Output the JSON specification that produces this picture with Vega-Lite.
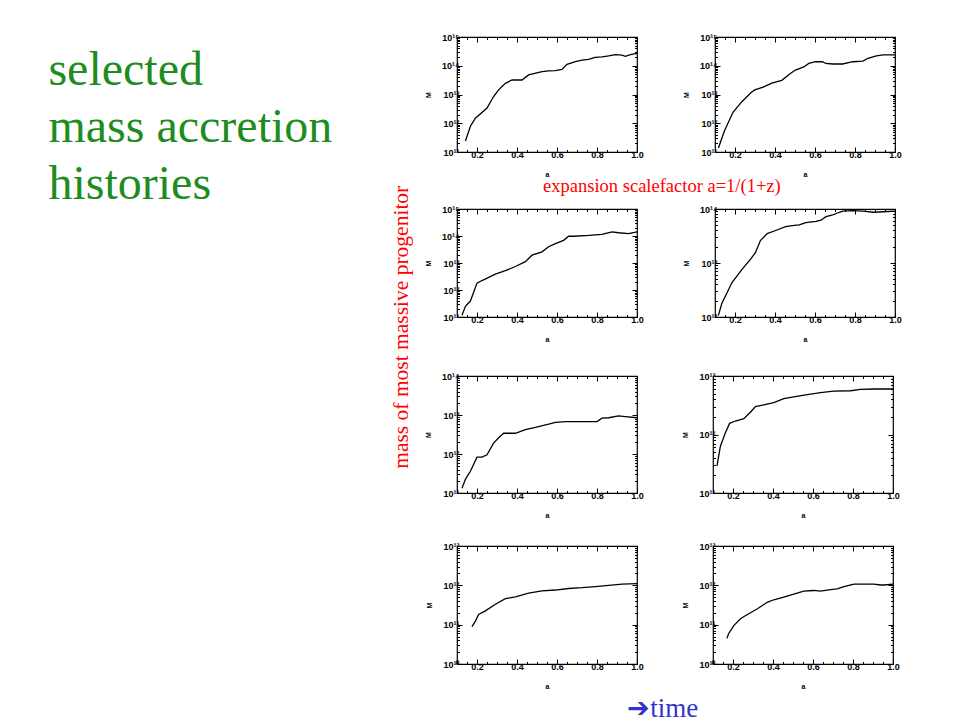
{
  "$schema": "https://vega.github.io/schema/vega-lite/v6.json",
  "autosize": {"type": "none"},
  "padding": {"left": 457, "top": 37, "right": 497, "bottom": 684},
  "background": "white",
  "title": {
    "text": ["selected", "mass accretion", "histories"],
    "orient": "top", "anchor": "start", "frame": "bounds",
    "font": "Liberation Serif", "fontSize": 48, "fontWeight": "normal",
    "color": "#1e8c1e", "lineHeight": 57, "baseline": "alphabetic",
    "offset": 0, "dx": -343, "dy": 215
  },
  "datasets": {
    "halo1": [
      {"a": 0.142, "M": 2.4e11}, {"a": 0.167, "M": 7.9e11}, {"a": 0.192, "M": 1.5e12}, {"a": 0.25, "M": 3.4e12},
      {"a": 0.283, "M": 8.5e12}, {"a": 0.308, "M": 1.45e13}, {"a": 0.342, "M": 2.45e13}, {"a": 0.375, "M": 3.2e13},
      {"a": 0.425, "M": 3.2e13}, {"a": 0.458, "M": 4.8e13}, {"a": 0.525, "M": 6.2e13}, {"a": 0.558, "M": 6.6e13},
      {"a": 0.592, "M": 6.8e13}, {"a": 0.625, "M": 7.4e13}, {"a": 0.65, "M": 1.12e14}, {"a": 0.692, "M": 1.38e14},
      {"a": 0.725, "M": 1.58e14}, {"a": 0.758, "M": 1.66e14}, {"a": 0.79, "M": 1.95e14}, {"a": 0.825, "M": 2.04e14},
      {"a": 0.858, "M": 2.19e14}, {"a": 0.892, "M": 2.45e14}, {"a": 0.925, "M": 2.34e14}, {"a": 0.942, "M": 2.14e14},
      {"a": 0.967, "M": 2.45e14}, {"a": 1.0, "M": 2.7e14}
    ],
    "halo2": [
      {"a": 0.117, "M": 1.38e11}, {"a": 0.147, "M": 5.4e11}, {"a": 0.19, "M": 2.4e12}, {"a": 0.232, "M": 5.4e12},
      {"a": 0.282, "M": 1.2e13}, {"a": 0.299, "M": 1.45e13}, {"a": 0.341, "M": 1.8e13}, {"a": 0.384, "M": 2.5e13},
      {"a": 0.434, "M": 3.1e13}, {"a": 0.477, "M": 5.4e13}, {"a": 0.502, "M": 7.1e13}, {"a": 0.544, "M": 9.1e13},
      {"a": 0.569, "M": 1.2e14}, {"a": 0.603, "M": 1.38e14}, {"a": 0.637, "M": 1.38e14}, {"a": 0.654, "M": 1.2e14},
      {"a": 0.688, "M": 1.15e14}, {"a": 0.738, "M": 1.15e14}, {"a": 0.789, "M": 1.38e14}, {"a": 0.84, "M": 1.45e14},
      {"a": 0.865, "M": 1.82e14}, {"a": 0.907, "M": 2.19e14}, {"a": 0.94, "M": 2.4e14}, {"a": 1.0, "M": 2.4e14}
    ],
    "halo3": [
      {"a": 0.125, "M": 1.15e11}, {"a": 0.142, "M": 2.5e11}, {"a": 0.167, "M": 3.9e11}, {"a": 0.2, "M": 1.8e12},
      {"a": 0.225, "M": 2.24e12}, {"a": 0.292, "M": 3.9e12}, {"a": 0.342, "M": 5.2e12}, {"a": 0.392, "M": 7.4e12},
      {"a": 0.442, "M": 1.12e13}, {"a": 0.475, "M": 1.95e13}, {"a": 0.525, "M": 2.6e13}, {"a": 0.558, "M": 4.0e13},
      {"a": 0.592, "M": 5.2e13}, {"a": 0.633, "M": 6.9e13}, {"a": 0.658, "M": 9.8e13}, {"a": 0.683, "M": 9.8e13},
      {"a": 0.758, "M": 1.05e14}, {"a": 0.825, "M": 1.15e14}, {"a": 0.875, "M": 1.41e14}, {"a": 0.908, "M": 1.32e14},
      {"a": 0.958, "M": 1.23e14}, {"a": 1.0, "M": 1.41e14}
    ],
    "halo4": [
      {"a": 0.117, "M": 1.07e12}, {"a": 0.134, "M": 1.78e12}, {"a": 0.159, "M": 2.75e12}, {"a": 0.184, "M": 4.3e12},
      {"a": 0.235, "M": 7.6e12}, {"a": 0.277, "M": 1.17e13}, {"a": 0.302, "M": 1.55e13}, {"a": 0.327, "M": 2.6e13},
      {"a": 0.361, "M": 3.5e13}, {"a": 0.403, "M": 4.0e13}, {"a": 0.453, "M": 4.7e13}, {"a": 0.487, "M": 4.9e13},
      {"a": 0.521, "M": 5.1e13}, {"a": 0.554, "M": 5.6e13}, {"a": 0.605, "M": 5.9e13}, {"a": 0.63, "M": 6.2e13},
      {"a": 0.655, "M": 7.2e13}, {"a": 0.689, "M": 7.8e13}, {"a": 0.722, "M": 8.7e13}, {"a": 0.739, "M": 9.1e13},
      {"a": 0.79, "M": 9.3e13}, {"a": 0.84, "M": 9.1e13}, {"a": 0.891, "M": 8.7e13}, {"a": 0.941, "M": 8.9e13},
      {"a": 1.0, "M": 9.1e13}
    ],
    "halo5": [
      {"a": 0.125, "M": 1.32e11}, {"a": 0.142, "M": 2.24e11}, {"a": 0.167, "M": 3.6e11}, {"a": 0.2, "M": 8.3e11},
      {"a": 0.225, "M": 8.3e11}, {"a": 0.25, "M": 9.5e11}, {"a": 0.283, "M": 1.9e12}, {"a": 0.308, "M": 2.6e12},
      {"a": 0.333, "M": 3.4e12}, {"a": 0.392, "M": 3.4e12}, {"a": 0.442, "M": 4.2e12}, {"a": 0.492, "M": 4.8e12},
      {"a": 0.558, "M": 5.8e12}, {"a": 0.592, "M": 6.5e12}, {"a": 0.642, "M": 6.8e12}, {"a": 0.725, "M": 6.8e12},
      {"a": 0.8, "M": 6.8e12}, {"a": 0.825, "M": 8.3e12}, {"a": 0.858, "M": 8.5e12}, {"a": 0.908, "M": 9.5e12},
      {"a": 0.942, "M": 9.1e12}, {"a": 1.0, "M": 8.5e12}
    ],
    "halo6": [
      {"a": 0.12, "M": 2.9e11}, {"a": 0.137, "M": 6.3e11}, {"a": 0.162, "M": 1.07e12}, {"a": 0.183, "M": 1.55e12},
      {"a": 0.212, "M": 1.7e12}, {"a": 0.254, "M": 1.86e12}, {"a": 0.287, "M": 2.4e12}, {"a": 0.312, "M": 3.0e12},
      {"a": 0.354, "M": 3.2e12}, {"a": 0.404, "M": 3.5e12}, {"a": 0.454, "M": 4.1e12}, {"a": 0.504, "M": 4.4e12},
      {"a": 0.571, "M": 4.8e12}, {"a": 0.638, "M": 5.2e12}, {"a": 0.704, "M": 5.5e12}, {"a": 0.788, "M": 5.6e12},
      {"a": 0.838, "M": 5.9e12}, {"a": 0.905, "M": 6.0e12}, {"a": 1.0, "M": 6.0e12}
    ],
    "halo7": [
      {"a": 0.175, "M": 8.9e10}, {"a": 0.192, "M": 1.23e11}, {"a": 0.208, "M": 1.82e11}, {"a": 0.242, "M": 2.24e11},
      {"a": 0.292, "M": 3.3e11}, {"a": 0.342, "M": 4.6e11}, {"a": 0.392, "M": 5.1e11}, {"a": 0.458, "M": 6.3e11},
      {"a": 0.525, "M": 7.2e11}, {"a": 0.592, "M": 7.6e11}, {"a": 0.658, "M": 8.3e11}, {"a": 0.725, "M": 8.7e11},
      {"a": 0.792, "M": 9.3e11}, {"a": 0.858, "M": 1.0e12}, {"a": 0.925, "M": 1.07e12}, {"a": 1.0, "M": 1.1e12}
    ],
    "halo8": [
      {"a": 0.17, "M": 4.5e10}, {"a": 0.178, "M": 5.9e10}, {"a": 0.204, "M": 9.5e10}, {"a": 0.237, "M": 1.41e11},
      {"a": 0.27, "M": 1.78e11}, {"a": 0.32, "M": 2.5e11}, {"a": 0.371, "M": 3.7e11}, {"a": 0.404, "M": 4.3e11},
      {"a": 0.454, "M": 5.0e11}, {"a": 0.504, "M": 6.0e11}, {"a": 0.554, "M": 7.1e11}, {"a": 0.604, "M": 7.4e11},
      {"a": 0.638, "M": 7.1e11}, {"a": 0.688, "M": 7.8e11}, {"a": 0.721, "M": 8.1e11}, {"a": 0.755, "M": 9.3e11},
      {"a": 0.805, "M": 1.07e12}, {"a": 0.855, "M": 1.07e12}, {"a": 0.905, "M": 1.07e12}, {"a": 0.938, "M": 1.02e12},
      {"a": 0.955, "M": 1.02e12}, {"a": 1.0, "M": 1.07e12}
    ]
  },
  "vconcat": [
    {
      "title": {
        "text": "➔time", "orient": "bottom", "anchor": "middle", "frame": "bounds",
        "font": "Liberation Serif", "fontSize": 27, "fontWeight": "normal", "color": "#3333cc",
        "offset": 6, "dx": 16
      },
      "vconcat": [
        {
          "title": {
            "text": "mass of most massive progenitor", "orient": "left", "anchor": "middle", "frame": "bounds",
            "font": "Liberation Serif", "fontSize": 21.5, "fontWeight": "normal", "color": "#ff0000",
            "offset": 11, "dx": 34
          },
          "spacing": -3,
          "vconcat": [
            {
              "spacing": 37,
              "hconcat": [
                {
                  "width": 180, "height": 115, "data": {"name": "halo1"},
                  "resolve": {"axis": {"x": "independent", "y": "independent"}},
                  "layer": [
                    {"mark": {"type": "line", "color": "#000", "strokeWidth": 1.3},
                     "encoding": {
                       "x": {"field": "a", "type": "quantitative", "scale": {"domain": [0.1, 1.0], "nice": false, "zero": false},
                             "axis": {"orient": "bottom", "title": "a", "tickCount": 18, "labelExpr": "abs(datum.value*5 - round(datum.value*5)) < 0.001 ? format(datum.value, '.1f') : ''", "tickSize": {"condition": {"test": "abs(datum.value*5 - round(datum.value*5)) < 0.001", "value": -5}, "value": -2.5}}},
                       "y": {"field": "M", "type": "quantitative", "scale": {"type": "log", "domain": [1e11, 1e15], "nice": false},
                             "axis": {"orient": "left", "title": "M", "tickCount": 30, "labelExpr": "abs(log(datum.value)/LN10 - round(log(datum.value)/LN10)) < 0.001 ? '10' + ['⁰','¹','²','³','⁴','⁵','⁶','⁷','⁸','⁹'][floor(round(log(datum.value)/LN10)/10)] + ['⁰','¹','²','³','⁴','⁵','⁶','⁷','⁸','⁹'][round(log(datum.value)/LN10) % 10] : ''", "tickSize": {"condition": {"test": "abs(log(datum.value)/LN10 - round(log(datum.value)/LN10)) < 0.001", "value": -5}, "value": -2.5}}}
                     }},
                    {"mark": {"type": "line", "opacity": 0},
                     "encoding": {
                       "x": {"field": "a", "type": "quantitative", "scale": {"domain": [0.1, 1.0], "nice": false, "zero": false},
                             "axis": {"orient": "top", "title": null, "labels": false, "tickCount": 18, "tickSize": {"condition": {"test": "abs(datum.value*5 - round(datum.value*5)) < 0.001", "value": -5}, "value": -2.5}}},
                       "y": {"field": "M", "type": "quantitative", "scale": {"type": "log", "domain": [1e11, 1e15], "nice": false},
                             "axis": {"orient": "right", "title": null, "labels": false, "tickCount": 30, "tickSize": {"condition": {"test": "abs(log(datum.value)/LN10 - round(log(datum.value)/LN10)) < 0.001", "value": -5}, "value": -2.5}}}
                     }}
                  ]
                },
                {
                  "width": 180, "height": 115, "data": {"name": "halo2"},
                  "resolve": {"axis": {"x": "independent", "y": "independent"}},
                  "layer": [
                    {"mark": {"type": "line", "color": "#000", "strokeWidth": 1.3},
                     "encoding": {
                       "x": {"field": "a", "type": "quantitative", "scale": {"domain": [0.1, 1.0], "nice": false, "zero": false},
                             "axis": {"orient": "bottom", "title": "a", "tickCount": 18, "labelExpr": "abs(datum.value*5 - round(datum.value*5)) < 0.001 ? format(datum.value, '.1f') : ''", "tickSize": {"condition": {"test": "abs(datum.value*5 - round(datum.value*5)) < 0.001", "value": -5}, "value": -2.5}}},
                       "y": {"field": "M", "type": "quantitative", "scale": {"type": "log", "domain": [1e11, 1e15], "nice": false},
                             "axis": {"orient": "left", "title": "M", "tickCount": 30, "labelExpr": "abs(log(datum.value)/LN10 - round(log(datum.value)/LN10)) < 0.001 ? '10' + ['⁰','¹','²','³','⁴','⁵','⁶','⁷','⁸','⁹'][floor(round(log(datum.value)/LN10)/10)] + ['⁰','¹','²','³','⁴','⁵','⁶','⁷','⁸','⁹'][round(log(datum.value)/LN10) % 10] : ''", "tickSize": {"condition": {"test": "abs(log(datum.value)/LN10 - round(log(datum.value)/LN10)) < 0.001", "value": -5}, "value": -2.5}}}
                     }},
                    {"mark": {"type": "line", "opacity": 0},
                     "encoding": {
                       "x": {"field": "a", "type": "quantitative", "scale": {"domain": [0.1, 1.0], "nice": false, "zero": false},
                             "axis": {"orient": "top", "title": null, "labels": false, "tickCount": 18, "tickSize": {"condition": {"test": "abs(datum.value*5 - round(datum.value*5)) < 0.001", "value": -5}, "value": -2.5}}},
                       "y": {"field": "M", "type": "quantitative", "scale": {"type": "log", "domain": [1e11, 1e15], "nice": false},
                             "axis": {"orient": "right", "title": null, "labels": false, "tickCount": 30, "tickSize": {"condition": {"test": "abs(log(datum.value)/LN10 - round(log(datum.value)/LN10)) < 0.001", "value": -5}, "value": -2.5}}}
                     }}
                  ]
                }
              ]
            },
            {
              "title": {
                "text": "expansion scalefactor a=1/(1+z)", "orient": "top", "anchor": "middle", "frame": "bounds",
                "font": "Liberation Serif", "fontSize": 18.5, "fontWeight": "normal", "color": "#ff0000",
                "offset": 9, "dx": -1
              },
              "spacing": 27,
              "vconcat": [
                {
                  "spacing": 37,
                  "hconcat": [
                    {
                      "width": 180, "height": 108, "data": {"name": "halo3"},
                      "resolve": {"axis": {"x": "independent", "y": "independent"}},
                      "layer": [
                        {"mark": {"type": "line", "color": "#000", "strokeWidth": 1.3},
                         "encoding": {
                           "x": {"field": "a", "type": "quantitative", "scale": {"domain": [0.1, 1.0], "nice": false, "zero": false},
                                 "axis": {"orient": "bottom", "title": "a", "tickCount": 18, "labelExpr": "abs(datum.value*5 - round(datum.value*5)) < 0.001 ? format(datum.value, '.1f') : ''", "tickSize": {"condition": {"test": "abs(datum.value*5 - round(datum.value*5)) < 0.001", "value": -5}, "value": -2.5}}},
                           "y": {"field": "M", "type": "quantitative", "scale": {"type": "log", "domain": [1e11, 1e15], "nice": false},
                                 "axis": {"orient": "left", "title": "M", "tickCount": 30, "labelExpr": "abs(log(datum.value)/LN10 - round(log(datum.value)/LN10)) < 0.001 ? '10' + ['⁰','¹','²','³','⁴','⁵','⁶','⁷','⁸','⁹'][floor(round(log(datum.value)/LN10)/10)] + ['⁰','¹','²','³','⁴','⁵','⁶','⁷','⁸','⁹'][round(log(datum.value)/LN10) % 10] : ''", "tickSize": {"condition": {"test": "abs(log(datum.value)/LN10 - round(log(datum.value)/LN10)) < 0.001", "value": -5}, "value": -2.5}}}
                         }},
                        {"mark": {"type": "line", "opacity": 0},
                         "encoding": {
                           "x": {"field": "a", "type": "quantitative", "scale": {"domain": [0.1, 1.0], "nice": false, "zero": false},
                                 "axis": {"orient": "top", "title": null, "labels": false, "tickCount": 18, "tickSize": {"condition": {"test": "abs(datum.value*5 - round(datum.value*5)) < 0.001", "value": -5}, "value": -2.5}}},
                           "y": {"field": "M", "type": "quantitative", "scale": {"type": "log", "domain": [1e11, 1e15], "nice": false},
                                 "axis": {"orient": "right", "title": null, "labels": false, "tickCount": 30, "tickSize": {"condition": {"test": "abs(log(datum.value)/LN10 - round(log(datum.value)/LN10)) < 0.001", "value": -5}, "value": -2.5}}}
                         }}
                      ]
                    },
                    {
                      "width": 180, "height": 108, "data": {"name": "halo4"},
                      "resolve": {"axis": {"x": "independent", "y": "independent"}},
                      "layer": [
                        {"mark": {"type": "line", "color": "#000", "strokeWidth": 1.3},
                         "encoding": {
                           "x": {"field": "a", "type": "quantitative", "scale": {"domain": [0.1, 1.0], "nice": false, "zero": false},
                                 "axis": {"orient": "bottom", "title": "a", "tickCount": 18, "labelExpr": "abs(datum.value*5 - round(datum.value*5)) < 0.001 ? format(datum.value, '.1f') : ''", "tickSize": {"condition": {"test": "abs(datum.value*5 - round(datum.value*5)) < 0.001", "value": -5}, "value": -2.5}}},
                           "y": {"field": "M", "type": "quantitative", "scale": {"type": "log", "domain": [1e12, 1e14], "nice": false},
                                 "axis": {"orient": "left", "title": "M", "tickCount": 30, "labelExpr": "abs(log(datum.value)/LN10 - round(log(datum.value)/LN10)) < 0.001 ? '10' + ['⁰','¹','²','³','⁴','⁵','⁶','⁷','⁸','⁹'][floor(round(log(datum.value)/LN10)/10)] + ['⁰','¹','²','³','⁴','⁵','⁶','⁷','⁸','⁹'][round(log(datum.value)/LN10) % 10] : ''", "tickSize": {"condition": {"test": "abs(log(datum.value)/LN10 - round(log(datum.value)/LN10)) < 0.001", "value": -5}, "value": -2.5}}}
                         }},
                        {"mark": {"type": "line", "opacity": 0},
                         "encoding": {
                           "x": {"field": "a", "type": "quantitative", "scale": {"domain": [0.1, 1.0], "nice": false, "zero": false},
                                 "axis": {"orient": "top", "title": null, "labels": false, "tickCount": 18, "tickSize": {"condition": {"test": "abs(datum.value*5 - round(datum.value*5)) < 0.001", "value": -5}, "value": -2.5}}},
                           "y": {"field": "M", "type": "quantitative", "scale": {"type": "log", "domain": [1e12, 1e14], "nice": false},
                                 "axis": {"orient": "right", "title": null, "labels": false, "tickCount": 30, "tickSize": {"condition": {"test": "abs(log(datum.value)/LN10 - round(log(datum.value)/LN10)) < 0.001", "value": -5}, "value": -2.5}}}
                         }}
                      ]
                    }
                  ]
                },
                {
                  "spacing": 21,
                  "vconcat": [
                    {
                      "spacing": 37,
                      "hconcat": [
                        {
                          "width": 180, "height": 117, "data": {"name": "halo5"},
                          "resolve": {"axis": {"x": "independent", "y": "independent"}},
                          "layer": [
                            {"mark": {"type": "line", "color": "#000", "strokeWidth": 1.3},
                             "encoding": {
                               "x": {"field": "a", "type": "quantitative", "scale": {"domain": [0.1, 1.0], "nice": false, "zero": false},
                                     "axis": {"orient": "bottom", "title": "a", "tickCount": 18, "labelExpr": "abs(datum.value*5 - round(datum.value*5)) < 0.001 ? format(datum.value, '.1f') : ''", "tickSize": {"condition": {"test": "abs(datum.value*5 - round(datum.value*5)) < 0.001", "value": -5}, "value": -2.5}}},
                               "y": {"field": "M", "type": "quantitative", "scale": {"type": "log", "domain": [1e11, 1e14], "nice": false},
                                     "axis": {"orient": "left", "title": "M", "tickCount": 30, "labelExpr": "abs(log(datum.value)/LN10 - round(log(datum.value)/LN10)) < 0.001 ? '10' + ['⁰','¹','²','³','⁴','⁵','⁶','⁷','⁸','⁹'][floor(round(log(datum.value)/LN10)/10)] + ['⁰','¹','²','³','⁴','⁵','⁶','⁷','⁸','⁹'][round(log(datum.value)/LN10) % 10] : ''", "tickSize": {"condition": {"test": "abs(log(datum.value)/LN10 - round(log(datum.value)/LN10)) < 0.001", "value": -5}, "value": -2.5}}}
                             }},
                            {"mark": {"type": "line", "opacity": 0},
                             "encoding": {
                               "x": {"field": "a", "type": "quantitative", "scale": {"domain": [0.1, 1.0], "nice": false, "zero": false},
                                     "axis": {"orient": "top", "title": null, "labels": false, "tickCount": 18, "tickSize": {"condition": {"test": "abs(datum.value*5 - round(datum.value*5)) < 0.001", "value": -5}, "value": -2.5}}},
                               "y": {"field": "M", "type": "quantitative", "scale": {"type": "log", "domain": [1e11, 1e14], "nice": false},
                                     "axis": {"orient": "right", "title": null, "labels": false, "tickCount": 30, "tickSize": {"condition": {"test": "abs(log(datum.value)/LN10 - round(log(datum.value)/LN10)) < 0.001", "value": -5}, "value": -2.5}}}
                             }}
                          ]
                        },
                        {
                          "width": 180, "height": 117, "data": {"name": "halo6"},
                          "resolve": {"axis": {"x": "independent", "y": "independent"}},
                          "layer": [
                            {"mark": {"type": "line", "color": "#000", "strokeWidth": 1.3},
                             "encoding": {
                               "x": {"field": "a", "type": "quantitative", "scale": {"domain": [0.1, 1.0], "nice": false, "zero": false},
                                     "axis": {"orient": "bottom", "title": "a", "tickCount": 18, "labelExpr": "abs(datum.value*5 - round(datum.value*5)) < 0.001 ? format(datum.value, '.1f') : ''", "tickSize": {"condition": {"test": "abs(datum.value*5 - round(datum.value*5)) < 0.001", "value": -5}, "value": -2.5}}},
                               "y": {"field": "M", "type": "quantitative", "scale": {"type": "log", "domain": [1e11, 1e13], "nice": false},
                                     "axis": {"orient": "left", "title": "M", "tickCount": 30, "labelExpr": "abs(log(datum.value)/LN10 - round(log(datum.value)/LN10)) < 0.001 ? '10' + ['⁰','¹','²','³','⁴','⁵','⁶','⁷','⁸','⁹'][floor(round(log(datum.value)/LN10)/10)] + ['⁰','¹','²','³','⁴','⁵','⁶','⁷','⁸','⁹'][round(log(datum.value)/LN10) % 10] : ''", "tickSize": {"condition": {"test": "abs(log(datum.value)/LN10 - round(log(datum.value)/LN10)) < 0.001", "value": -5}, "value": -2.5}}}
                             }},
                            {"mark": {"type": "line", "opacity": 0},
                             "encoding": {
                               "x": {"field": "a", "type": "quantitative", "scale": {"domain": [0.1, 1.0], "nice": false, "zero": false},
                                     "axis": {"orient": "top", "title": null, "labels": false, "tickCount": 18, "tickSize": {"condition": {"test": "abs(datum.value*5 - round(datum.value*5)) < 0.001", "value": -5}, "value": -2.5}}},
                               "y": {"field": "M", "type": "quantitative", "scale": {"type": "log", "domain": [1e11, 1e13], "nice": false},
                                     "axis": {"orient": "right", "title": null, "labels": false, "tickCount": 30, "tickSize": {"condition": {"test": "abs(log(datum.value)/LN10 - round(log(datum.value)/LN10)) < 0.001", "value": -5}, "value": -2.5}}}
                             }}
                          ]
                        }
                      ]
                    },
                    {
                      "spacing": 37,
                      "hconcat": [
                        {
                          "width": 180, "height": 118, "data": {"name": "halo7"},
                          "resolve": {"axis": {"x": "independent", "y": "independent"}},
                          "layer": [
                            {"mark": {"type": "line", "color": "#000", "strokeWidth": 1.3},
                             "encoding": {
                               "x": {"field": "a", "type": "quantitative", "scale": {"domain": [0.1, 1.0], "nice": false, "zero": false},
                                     "axis": {"orient": "bottom", "title": "a", "tickCount": 18, "labelExpr": "abs(datum.value*5 - round(datum.value*5)) < 0.001 ? format(datum.value, '.1f') : ''", "tickSize": {"condition": {"test": "abs(datum.value*5 - round(datum.value*5)) < 0.001", "value": -5}, "value": -2.5}}},
                               "y": {"field": "M", "type": "quantitative", "scale": {"type": "log", "domain": [1e10, 1e13], "nice": false},
                                     "axis": {"orient": "left", "title": "M", "tickCount": 30, "labelExpr": "abs(log(datum.value)/LN10 - round(log(datum.value)/LN10)) < 0.001 ? '10' + ['⁰','¹','²','³','⁴','⁵','⁶','⁷','⁸','⁹'][floor(round(log(datum.value)/LN10)/10)] + ['⁰','¹','²','³','⁴','⁵','⁶','⁷','⁸','⁹'][round(log(datum.value)/LN10) % 10] : ''", "tickSize": {"condition": {"test": "abs(log(datum.value)/LN10 - round(log(datum.value)/LN10)) < 0.001", "value": -5}, "value": -2.5}}}
                             }},
                            {"mark": {"type": "line", "opacity": 0},
                             "encoding": {
                               "x": {"field": "a", "type": "quantitative", "scale": {"domain": [0.1, 1.0], "nice": false, "zero": false},
                                     "axis": {"orient": "top", "title": null, "labels": false, "tickCount": 18, "tickSize": {"condition": {"test": "abs(datum.value*5 - round(datum.value*5)) < 0.001", "value": -5}, "value": -2.5}}},
                               "y": {"field": "M", "type": "quantitative", "scale": {"type": "log", "domain": [1e10, 1e13], "nice": false},
                                     "axis": {"orient": "right", "title": null, "labels": false, "tickCount": 30, "tickSize": {"condition": {"test": "abs(log(datum.value)/LN10 - round(log(datum.value)/LN10)) < 0.001", "value": -5}, "value": -2.5}}}
                             }}
                          ]
                        },
                        {
                          "width": 180, "height": 118, "data": {"name": "halo8"},
                          "resolve": {"axis": {"x": "independent", "y": "independent"}},
                          "layer": [
                            {"mark": {"type": "line", "color": "#000", "strokeWidth": 1.3},
                             "encoding": {
                               "x": {"field": "a", "type": "quantitative", "scale": {"domain": [0.1, 1.0], "nice": false, "zero": false},
                                     "axis": {"orient": "bottom", "title": "a", "tickCount": 18, "labelExpr": "abs(datum.value*5 - round(datum.value*5)) < 0.001 ? format(datum.value, '.1f') : ''", "tickSize": {"condition": {"test": "abs(datum.value*5 - round(datum.value*5)) < 0.001", "value": -5}, "value": -2.5}}},
                               "y": {"field": "M", "type": "quantitative", "scale": {"type": "log", "domain": [1e10, 1e13], "nice": false},
                                     "axis": {"orient": "left", "title": "M", "tickCount": 30, "labelExpr": "abs(log(datum.value)/LN10 - round(log(datum.value)/LN10)) < 0.001 ? '10' + ['⁰','¹','²','³','⁴','⁵','⁶','⁷','⁸','⁹'][floor(round(log(datum.value)/LN10)/10)] + ['⁰','¹','²','³','⁴','⁵','⁶','⁷','⁸','⁹'][round(log(datum.value)/LN10) % 10] : ''", "tickSize": {"condition": {"test": "abs(log(datum.value)/LN10 - round(log(datum.value)/LN10)) < 0.001", "value": -5}, "value": -2.5}}}
                             }},
                            {"mark": {"type": "line", "opacity": 0},
                             "encoding": {
                               "x": {"field": "a", "type": "quantitative", "scale": {"domain": [0.1, 1.0], "nice": false, "zero": false},
                                     "axis": {"orient": "top", "title": null, "labels": false, "tickCount": 18, "tickSize": {"condition": {"test": "abs(datum.value*5 - round(datum.value*5)) < 0.001", "value": -5}, "value": -2.5}}},
                               "y": {"field": "M", "type": "quantitative", "scale": {"type": "log", "domain": [1e10, 1e13], "nice": false},
                                     "axis": {"orient": "right", "title": null, "labels": false, "tickCount": 30, "tickSize": {"condition": {"test": "abs(log(datum.value)/LN10 - round(log(datum.value)/LN10)) < 0.001", "value": -5}, "value": -2.5}}}
                             }}
                          ]
                        }
                      ]
                    }
                  ]
                }
              ]
            }
          ]
        }
      ]
    }
  ],
  "config": {
    "view": {"stroke": "#000", "strokeWidth": 1.2},
    "axis": {
      "domain": false, "grid": false, "tickColor": "#000", "tickWidth": 1,
      "labelFont": "Liberation Sans", "labelFontSize": 9, "labelFontWeight": "bold", "labelColor": "#000",
      "labelPadding": 3, "labelFlush": false, "labelOverlap": false,
      "titleFont": "Liberation Sans", "titleFontSize": 7, "titleFontWeight": "bold", "titleColor": "#000"
    },
    "axisX": {"titlePadding": 9},
    "axisY": {"titlePadding": 10}
  }
}
